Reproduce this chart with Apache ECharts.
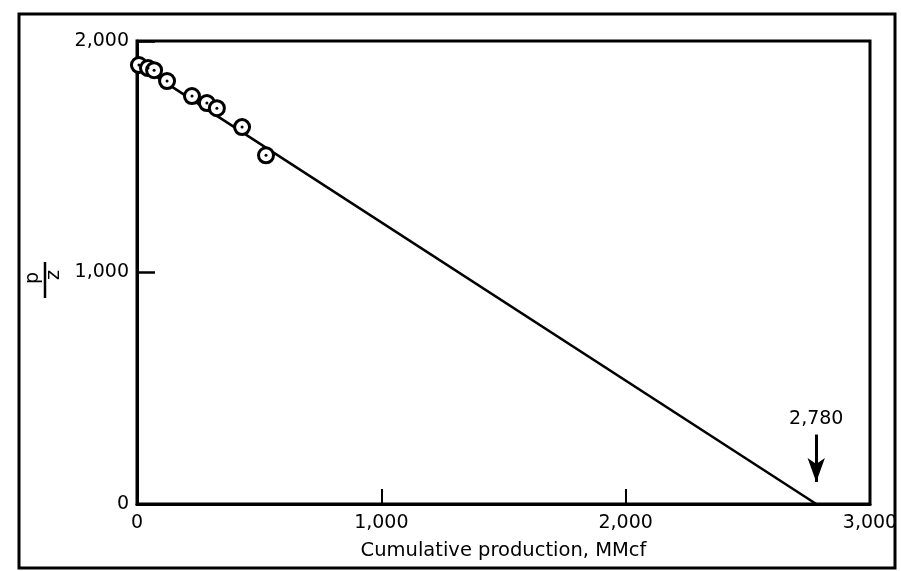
<!DOCTYPE html>
<html>
<head>
<meta charset="utf-8">
<script src="https://cdn.jsdelivr.net/npm/echarts@6/dist/echarts.min.js"></script>
<style>html,body{margin:0;padding:0;background:#fff}#c{width:901px;height:571px}</style>
</head>
<body>
<div id="c"></div>
<script>
var xTicks = [0, 1000, 2000, 3000];
var yTicks = [0, 1000, 2000];
var cumProd = [8, 45, 70, 123, 225, 286, 327, 430, 528];
var pOverZ = [1896, 1883, 1874, 1827, 1762, 1732, 1710, 1628, 1506];
var fitLine = [[0, 1900], [2780, 0]];
var abandonX = 2780;
var arrowFrom = 300, arrowTo = 95;

function fmt(v) { return v.toLocaleString('en-US'); }
var pts = cumProd.map(function (x, i) { return [x, pOverZ[i]]; });
var FONT = 'DejaVu Sans';

var chart = echarts.init(document.getElementById('c'));
chart.setOption({
  backgroundColor: '#fff',
  animation: false,
  grid: { left: 137, right: 31, top: 41, bottom: 67, show: true, borderColor: '#000', borderWidth: 3, backgroundColor: 'transparent' },
  xAxis: {
    type: 'value', min: 0, max: 3000, interval: 1000,
    name: 'Cumulative production, MMcf', nameLocation: 'middle', nameGap: 37,
    nameTextStyle: { color: '#000', fontFamily: FONT, fontSize: 19.5 },
    axisLine: { lineStyle: { color: '#000', width: 3 } },
    axisTick: { inside: true, length: 15, lineStyle: { color: '#000', width: 2 } },
    axisLabel: { color: '#000', fontFamily: FONT, fontSize: 19, margin: 10, formatter: function (v) { return fmt(v); } },
    splitLine: { show: false }
  },
  yAxis: {
    type: 'value', min: 0, max: 2000, interval: 1000,
    axisLine: { lineStyle: { color: '#000', width: 3 } },
    axisTick: { inside: true, length: 18, lineStyle: { color: '#000', width: 2.5 } },
    axisLabel: { color: '#000', fontFamily: FONT, fontSize: 19, margin: 8, formatter: function (v) { return fmt(v); } },
    splitLine: { show: false }
  },
  series: [
    {
      type: 'line', data: fitLine, symbol: 'none',
      lineStyle: { color: '#000', width: 2.5 },
      z: 2,
      markLine: {
        silent: true,
        symbol: ['none', 'arrow'], symbolSize: [13, 24],
        lineStyle: { color: '#000', width: 3, type: 'solid' },
        label: { show: true, position: 'start', formatter: fmt(abandonX), color: '#000', fontFamily: FONT, fontSize: 19, distance: 6 },
        data: [[{ coord: [abandonX, arrowFrom] }, { coord: [abandonX, arrowTo] }]]
      }
    },
    {
      type: 'scatter', data: pts, symbol: 'circle', symbolSize: 15,
      itemStyle: { color: '#fff', borderColor: '#000', borderWidth: 3, opacity: 1 },
      z: 3
    },
    {
      type: 'scatter', data: pts, symbol: 'circle', symbolSize: 3,
      itemStyle: { color: '#000', opacity: 1 },
      z: 4
    }
  ],
  graphic: [
    { type: 'rect', shape: { x: 19, y: 14, width: 876, height: 554 }, style: { fill: 'none', stroke: '#000', lineWidth: 3 }, silent: true },
    { type: 'text', x: 33, y: 278, rotation: Math.PI / 2, style: { text: 'p', font: '19px "DejaVu Sans"', fill: '#000', align: 'center', verticalAlign: 'middle' } },
    { type: 'line', shape: { x1: 45, y1: 262, x2: 45, y2: 298 }, style: { stroke: '#000', lineWidth: 2.5 } },
    { type: 'text', x: 54, y: 275, rotation: Math.PI / 2, style: { text: 'z', font: '19px "DejaVu Sans"', fill: '#000', align: 'center', verticalAlign: 'middle' } }
  ]
});
</script>
</body>
</html>
